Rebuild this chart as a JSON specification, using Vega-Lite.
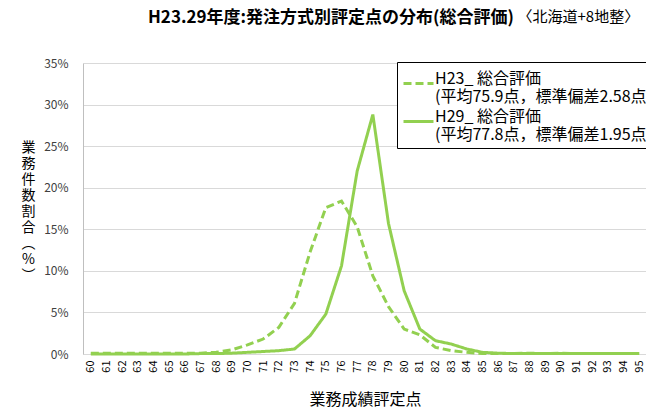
{
  "$schema": "https://vega.github.io/schema/vega-lite/v6.json",
  "width": 564,
  "height": 291,
  "autosize": {"type": "none"},
  "padding": {"left": 83, "top": 63, "right": 0, "bottom": 61},
  "background": "white",
  "title": {
    "text": "H23.29年度:発注方式別評定点の分布(総合評価)",
    "anchor": "start",
    "frame": "group",
    "dx": 65,
    "offset": -18,
    "fontSize": 17,
    "fontWeight": "bold",
    "font": "Noto Sans CJK JP",
    "color": "#000000"
  },
  "data": {
    "values": [
      {"score": 60, "series": "H23_ 総合評価", "value": 0.1},
      {"score": 61, "series": "H23_ 総合評価", "value": 0.1},
      {"score": 62, "series": "H23_ 総合評価", "value": 0.1},
      {"score": 63, "series": "H23_ 総合評価", "value": 0.1},
      {"score": 64, "series": "H23_ 総合評価", "value": 0.1},
      {"score": 65, "series": "H23_ 総合評価", "value": 0.1},
      {"score": 66, "series": "H23_ 総合評価", "value": 0.1},
      {"score": 67, "series": "H23_ 総合評価", "value": 0.1},
      {"score": 68, "series": "H23_ 総合評価", "value": 0.2},
      {"score": 69, "series": "H23_ 総合評価", "value": 0.5},
      {"score": 70, "series": "H23_ 総合評価", "value": 1.1},
      {"score": 71, "series": "H23_ 総合評価", "value": 1.8},
      {"score": 72, "series": "H23_ 総合評価", "value": 3.2},
      {"score": 73, "series": "H23_ 総合評価", "value": 6.1},
      {"score": 74, "series": "H23_ 総合評価", "value": 12.3},
      {"score": 75, "series": "H23_ 総合評価", "value": 17.6},
      {"score": 76, "series": "H23_ 総合評価", "value": 18.4},
      {"score": 77, "series": "H23_ 総合評価", "value": 15.3},
      {"score": 78, "series": "H23_ 総合評価", "value": 9.4},
      {"score": 79, "series": "H23_ 総合評価", "value": 5.7},
      {"score": 80, "series": "H23_ 総合評価", "value": 3.0},
      {"score": 81, "series": "H23_ 総合評価", "value": 2.3},
      {"score": 82, "series": "H23_ 総合評価", "value": 0.8},
      {"score": 83, "series": "H23_ 総合評価", "value": 0.4},
      {"score": 84, "series": "H23_ 総合評価", "value": 0.2},
      {"score": 85, "series": "H23_ 総合評価", "value": 0.05},
      {"score": 86, "series": "H23_ 総合評価", "value": 0.05},
      {"score": 87, "series": "H23_ 総合評価", "value": 0.05},
      {"score": 88, "series": "H23_ 総合評価", "value": 0.1},
      {"score": 89, "series": "H23_ 総合評価", "value": 0.05},
      {"score": 90, "series": "H23_ 総合評価", "value": 0.1},
      {"score": 91, "series": "H23_ 総合評価", "value": 0.05},
      {"score": 92, "series": "H23_ 総合評価", "value": 0.05},
      {"score": 93, "series": "H23_ 総合評価", "value": 0.05},
      {"score": 94, "series": "H23_ 総合評価", "value": 0.05},
      {"score": 95, "series": "H23_ 総合評価", "value": 0.05},
      {"score": 60, "series": "H29_ 総合評価", "value": 0.0},
      {"score": 61, "series": "H29_ 総合評価", "value": 0.0},
      {"score": 62, "series": "H29_ 総合評価", "value": 0.0},
      {"score": 63, "series": "H29_ 総合評価", "value": 0.0},
      {"score": 64, "series": "H29_ 総合評価", "value": 0.0},
      {"score": 65, "series": "H29_ 総合評価", "value": 0.0},
      {"score": 66, "series": "H29_ 総合評価", "value": 0.0},
      {"score": 67, "series": "H29_ 総合評価", "value": 0.05},
      {"score": 68, "series": "H29_ 総合評価", "value": 0.05},
      {"score": 69, "series": "H29_ 総合評価", "value": 0.1},
      {"score": 70, "series": "H29_ 総合評価", "value": 0.2},
      {"score": 71, "series": "H29_ 総合評価", "value": 0.3},
      {"score": 72, "series": "H29_ 総合評価", "value": 0.4},
      {"score": 73, "series": "H29_ 総合評価", "value": 0.6},
      {"score": 74, "series": "H29_ 総合評価", "value": 2.2},
      {"score": 75, "series": "H29_ 総合評価", "value": 4.8},
      {"score": 76, "series": "H29_ 総合評価", "value": 10.6},
      {"score": 77, "series": "H29_ 総合評価", "value": 22.0},
      {"score": 78, "series": "H29_ 総合評価", "value": 28.8},
      {"score": 79, "series": "H29_ 総合評価", "value": 15.7},
      {"score": 80, "series": "H29_ 総合評価", "value": 7.6},
      {"score": 81, "series": "H29_ 総合評価", "value": 3.0},
      {"score": 82, "series": "H29_ 総合評価", "value": 1.6},
      {"score": 83, "series": "H29_ 総合評価", "value": 1.2},
      {"score": 84, "series": "H29_ 総合評価", "value": 0.6},
      {"score": 85, "series": "H29_ 総合評価", "value": 0.2},
      {"score": 86, "series": "H29_ 総合評価", "value": 0.1},
      {"score": 87, "series": "H29_ 総合評価", "value": 0.05},
      {"score": 88, "series": "H29_ 総合評価", "value": 0.05},
      {"score": 89, "series": "H29_ 総合評価", "value": 0.05},
      {"score": 90, "series": "H29_ 総合評価", "value": 0.05},
      {"score": 91, "series": "H29_ 総合評価", "value": 0.05},
      {"score": 92, "series": "H29_ 総合評価", "value": 0.05},
      {"score": 93, "series": "H29_ 総合評価", "value": 0.05},
      {"score": 94, "series": "H29_ 総合評価", "value": 0.05},
      {"score": 95, "series": "H29_ 総合評価", "value": 0.05}
    ]
  },
  "encoding": {
    "y": {
      "field": "value",
      "type": "quantitative",
      "scale": {"domain": [0, 35], "nice": false, "zero": true},
      "axis": {
        "values": [0, 5, 10, 15, 20, 25, 30, 35],
        "labelExpr": "datum.value + '%'",
        "labelFontSize": 12,
        "labelColor": "#404040",
        "labelPadding": 15,
        "ticks": false,
        "domain": true,
        "domainColor": "#bfbfbf",
        "grid": true,
        "gridColor": "#d9d9d9",
        "title": ["業", "務", "件", "数", "割", "合", "︵", "%", "︶"],
        "titleAngle": 0,
        "titleAlign": "center",
        "titleBaseline": "top",
        "titleX": -55,
        "titleY": 77,
        "titleFontSize": 14,
        "titleLineHeight": 16,
        "titleFontWeight": "normal",
        "titleColor": "#000000"
      }
    },
    "strokeDash": {
      "field": "series",
      "type": "nominal",
      "scale": {"domain": ["H23_ 総合評価", "H29_ 総合評価"], "range": [[8, 4], [1, 0]]},
      "legend": {
        "title": null,
        "orient": "none",
        "legendX": 314,
        "legendY": -1,
        "symbolType": "stroke",
        "symbolSize": 900,
        "symbolStrokeWidth": 3,
        "symbolStrokeColor": "#92D050",
        "labelFontSize": 16,
        "labelLineHeight": 20,
        "labelBaseline": "alphabetic",
        "labelColor": "#000000",
        "labelLimit": 0,
        "labelOffset": 0,
        "labelExpr": "datum.label == 'H23_ 総合評価' ? [' H23_ 総合評価', '(平均75.9点，標準偏差2.58点)'] : [' H29_ 総合評価', '(平均77.8点，標準偏差1.95点)']",
        "padding": 5,
        "rowPadding": 0,
        "strokeColor": "#000000",
        "fillColor": "white"
      }
    }
  },
  "layer": [
    {
      "transform": [{"filter": "datum.series == 'H23_ 総合評価'"}],
      "mark": {"type": "line", "color": "#92D050", "strokeWidth": 3},
      "encoding": {
        "x": {
          "field": "score",
          "type": "ordinal",
          "axis": {
            "orient": "bottom",
            "labelAngle": -90,
            "labelFontSize": 11,
            "labelColor": "#000000",
            "labelPadding": 6,
            "ticks": false,
            "domain": true,
            "domainColor": "#d9d9d9",
            "title": "業務成績評定点",
            "titleFontSize": 16,
            "titleFontWeight": "normal",
            "titleColor": "#000000",
            "titleBaseline": "middle",
            "titleY": 45
          }
        }
      }
    },
    {
      "transform": [{"filter": "datum.series == 'H29_ 総合評価'"}],
      "mark": {"type": "line", "color": "#92D050", "strokeWidth": 3},
      "encoding": {
        "x": {
          "field": "score",
          "type": "ordinal",
          "axis": {
            "orient": "top",
            "labels": false,
            "ticks": false,
            "domain": false,
            "grid": false,
            "title": "〈北海道+8地整〉",
            "titleFontSize": 15,
            "titleFontWeight": "normal",
            "titleColor": "#000000",
            "titleAlign": "left",
            "titleBaseline": "middle",
            "titleAngle": 0,
            "titleX": 434,
            "titleY": -47
          }
        }
      }
    }
  ],
  "resolve": {"axis": {"x": "independent"}},
  "config": {
    "font": "Noto Sans CJK JP",
    "view": {"stroke": null}
  }
}
